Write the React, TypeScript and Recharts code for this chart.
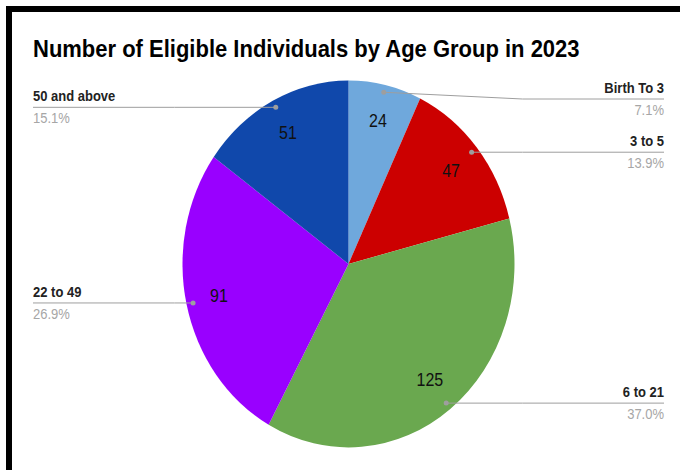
import React from "react";
import { PieChart, Pie, Cell, Sector } from "recharts";

const ageGroups = ["Birth To 3", "3 to 5", "6 to 21", "22 to 49", "50 and above"];
const individuals = [24, 47, 125, 91, 51];
const sliceColors = ["#6fa8dc", "#cc0000", "#6aa84f", "#9900ff", "#1048ab"];

const chartData = ageGroups.map((name, i) => ({ name, value: individuals[i] }));

const RADIAN = Math.PI / 180;
// the reference is slightly stretched vertically
const SY = 1.105;
const FONT = "'Liberation Sans', Arial, sans-serif";

function stretched(props: any) {
  const { cx, cy } = props;
  return (
    <g transform={`translate(${cx} ${cy}) scale(1 ${SY}) translate(${-cx} ${-cy})`}>
      <Sector {...props} />
    </g>
  );
}

// text drawn at (x, y) and stretched like the pie
function Txt({ x, y, children, ...rest }: any) {
  return (
    <g transform={`translate(${x} ${y}) scale(1 ${SY})`}>
      <text x={0} y={0} fontFamily={FONT} {...rest}>
        {children}
      </text>
    </g>
  );
}

function renderLabel(props: any) {
  const { cx, cy, midAngle, outerRadius, percent, name, value } = props;
  const cos = Math.cos(-midAngle * RADIAN);
  const sin = Math.sin(-midAngle * RADIAN);

  const vx = cx + outerRadius * 0.8 * cos;
  const vy = cy + outerRadius * 0.8 * sin * SY;

  const dx = cx + outerRadius * 0.96 * cos;
  const dy = cy + outerRadius * 0.96 * sin * SY;

  const right = dx > cx;
  const edgeX = right ? 664 : 33;
  const lineY = Math.max(dy, 99);
  const elbowX = right
    ? Math.max(dx, cx + outerRadius + 8)
    : Math.min(dx, cx - outerRadius - 8);
  const anchor = right ? "end" : "start";

  return (
    <g>
      <Txt x={vx} y={vy} textAnchor="middle" dominantBaseline="central" fontSize={16} fill="#111">
        {value}
      </Txt>
      <polyline
        points={`${dx},${dy} ${elbowX},${lineY} ${edgeX},${lineY}`}
        fill="none"
        stroke="#9e9e9e"
        strokeWidth={1}
      />
      <circle cx={dx} cy={dy} r={2.5} fill="#9e9e9e" />
      <Txt x={edgeX} y={lineY - 6} textAnchor={anchor} fontSize={13} fontWeight="bold" fill="#222">
        {name}
      </Txt>
      <Txt x={edgeX} y={lineY + 16} textAnchor={anchor} fontSize={13} fill="#a6a6a6">
        {(percent * 100).toFixed(1)}%
      </Txt>
    </g>
  );
}

export default function App() {
  return (
    <div
      style={{
        position: "absolute",
        left: 0,
        top: 0,
        width: 680,
        height: 470,
        background: "#fff",
        overflow: "hidden",
      }}
    >
      <div
        style={{
          position: "absolute",
          left: 6,
          top: 6,
          width: 700,
          height: 480,
          borderTop: "6px solid #000",
          borderLeft: "6px solid #000",
        }}
      />
      <PieChart
        width={680}
        height={470}
        margin={{ top: 0, right: 0, bottom: 0, left: 0 }}
        style={{ position: "absolute", left: 0, top: 0 }}
      >
        <Txt x={33} y={57} fontSize={22} fontWeight="bold" fill="#000">
          Number of Eligible Individuals by Age Group in 2023
        </Txt>
        <Pie
          data={chartData}
          dataKey="value"
          nameKey="name"
          cx={348.5}
          cy={264}
          outerRadius={166}
          startAngle={90}
          endAngle={-270}
          stroke="none"
          shape={stretched}
          label={renderLabel}
          labelLine={false}
          isAnimationActive={false}
        >
          {chartData.map((d, i) => (
            <Cell key={d.name} fill={sliceColors[i]} />
          ))}
        </Pie>
      </PieChart>
    </div>
  );
}
